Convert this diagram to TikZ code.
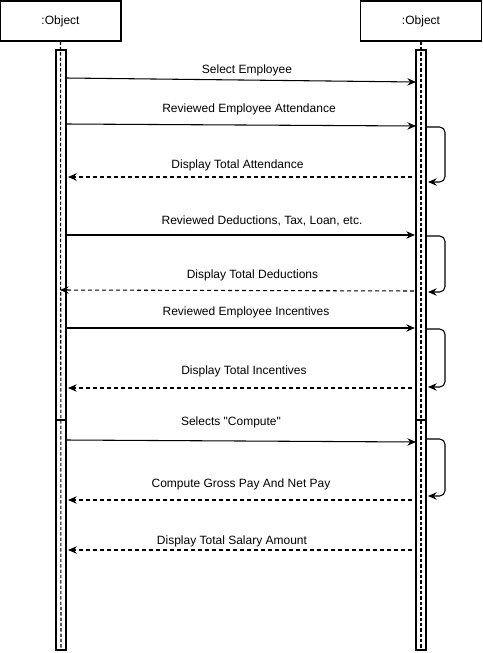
\documentclass[tikz,border=0pt]{standalone}
\usepackage{fontspec}
\setmainfont{Liberation Sans}[Ligatures=TeXOff]
\usetikzlibrary{arrows.meta}

\begin{document}
\begin{tikzpicture}[x=0.75pt,y=-0.75pt,>={Stealth[length=6.5pt,width=5.5pt]},
		font=\fontsize{9}{10.5}\selectfont,
		obj box/.style={draw,line width=0.8pt,minimum width=90.75pt,minimum height=30pt,inner sep=0pt},
		act bar/.style={draw,line width=1pt,minimum width=7.5pt,inner sep=0pt},
		life line/.style={line width=0.8pt,dash pattern=on 2.5pt off 1.5pt},
		msg/.style={->,line width=0.8pt},
		reply/.style={->,line width=0.8pt,dash pattern=on 3pt off 2.25pt},
		self loop/.style={->,line width=0.8pt,rounded corners=4pt},
		lbl/.style={inner sep=0pt,yshift=-1.1pt}]
		% frame
		\useasboundingbox (0,0) rectangle (482,653);
		
		\node[obj box] (objA) at (60.5,21) {:Object};
		\node[obj box] (objB) at (421,21) {:Object};
		\coordinate (endA) at (61,650);
		\coordinate (endB) at (421,650);
		\draw[life line] (objA) -- (endA);
		\draw[life line] (objB) -- (endB);
		
		\node[act bar,minimum height=277.5pt] (barA1) at (61,235) {};
		\node[act bar,minimum height=172.5pt] (barA2) at (61,535) {};
		\node[act bar,minimum height=277.5pt] (barB1) at (421,235) {};
		\node[act bar,minimum height=172.5pt] (barB2) at (421,535) {};
		
		% requests
		\coordinate (a1) at (66,78);  \coordinate (b1) at (416,82);
		\coordinate (a2) at (66,124); \coordinate (b2) at (416,126);
		\coordinate (a4) at (66,235); \coordinate (b4) at (415,235);
		\coordinate (a6) at (66,328); \coordinate (b6) at (415,328);
		\coordinate (a8) at (66,440); \coordinate (b8) at (416,442);
		\draw[msg] (a1) -- (b1);
		\draw[msg] (a2) -- (b2);
		\draw[msg] (a4) -- (b4);
		\draw[msg] (a6) -- (b6);
		\draw[msg] (a8) -- (b8);
		\node[lbl] (t1) at (247,69) {Select Employee};
		\node[lbl] (t2) at (249,108) {Reviewed Employee Attendance};
		\node[lbl] (t4) at (262,219) {Reviewed Deductions, Tax, Loan, etc.};
		\node[lbl] (t6) at (246,311) {Reviewed Employee Incentives};
		\node[lbl] (t8) at (231,421) {Selects "Compute"};
		
		% self calls
		\coordinate (l2) at (426,127); \coordinate (m2) at (428,182);
		\coordinate (l4) at (426,236); \coordinate (m4) at (428,292);
		\coordinate (l6) at (426,329); \coordinate (m6) at (428,387);
		\coordinate (l8) at (426,439); \coordinate (m8) at (428,496);
		\draw[self loop] (l2) -| (445,160) |- (m2);
		\draw[self loop] (l4) -| (445,260) |- (m4);
		\draw[self loop] (l6) -| (445,360) |- (m6);
		\draw[self loop] (l8) -| (445,470) |- (m8);
		
		% replies
		\coordinate (r3) at (412,177); \coordinate (s3) at (68,177);
		\coordinate (r5) at (414,291); \coordinate (s5) at (60,290);
		\coordinate (r7) at (412,388); \coordinate (s7) at (68,388);
		\coordinate (r9) at (412,500); \coordinate (s9) at (68,500);
		\coordinate (r10) at (412,550); \coordinate (s10) at (68,550);
		\draw[reply] (r3) -- (s3);
		\draw[reply] (r5) -- (s5);
		\draw[reply] (r7) -- (s7);
		\draw[reply] (r9) -- (s9);
		\draw[reply] (r10) -- (s10);
		\node[lbl] (t3) at (237.5,164) {Display Total Attendance};
		\node[lbl] (t5) at (252.5,273.5) {Display Total Deductions};
		\node[lbl] (t7) at (244,370) {Display Total Incentives};
		\node[lbl] (t9) at (241,483) {Compute Gross Pay And Net Pay};
		\node[lbl] (t10) at (232,540) {Display Total Salary Amount};
		\end{tikzpicture}
\end{document}
